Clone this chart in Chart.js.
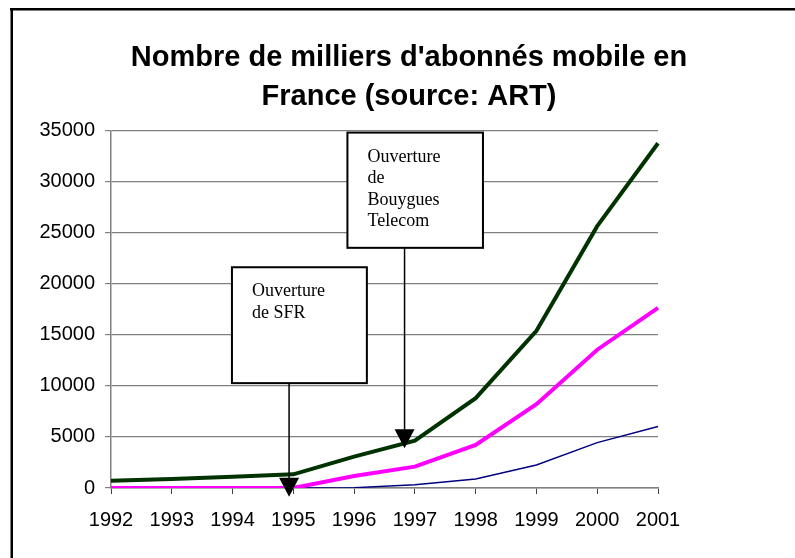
<!DOCTYPE html>
<html>
<head>
<meta charset="utf-8">
<script src="https://cdn.jsdelivr.net/npm/chart.js@4.4.1/dist/chart.umd.min.js"></script>
<style>
  html, body { margin: 0; padding: 0; background: #fff; }
  #wrap { width: 795px; height: 558px; }
</style>
</head>
<body>
<div id="wrap"><canvas id="chart" width="795" height="558"></canvas></div>
<script>
// Nombre de milliers d'abonnés mobile en France (source: ART)
const years = ['1992', '1993', '1994', '1995', '1996', '1997', '1998', '1999', '2000', '2001'];
const totalSubs = [720, 880, 1100, 1340, 3070, 4640, 8790, 15390, 25620, 33730];
const secondSubs = [0, 0, 0, 0, 1180, 2090, 4220, 8200, 13530, 17620];
const thirdSubs = [0, 0, 0, 0, 30, 330, 880, 2250, 4440, 6010];
const yTicksMax = 35000;
const yTicksStep = 5000;

// annotations, in axis units (x = year index, y = thousands)
const notes = [
  { lines: ['Ouverture', 'de SFR'], x0: 1.99, x1: 4.21, yTop: 21600, yBottom: 10260, arrowX: 2.93, tipY: -850 },
  { lines: ['Ouverture', 'de', 'Bouygues', 'Telecom'], x0: 3.89, x1: 6.12, yTop: 34775, yBottom: 23500, arrowX: 4.83, tipY: 3890 }
];

const SANS = '"Liberation Sans", Arial, sans-serif';
const SERIF = '"Liberation Serif", "Times New Roman", serif';
const GRID = '#808080';

const framePlugin = {
  id: 'frame',
  beforeDraw(chart) {
    const c = chart.ctx;
    c.save();
    c.fillStyle = '#fff';
    c.fillRect(0, 0, chart.width, chart.height);
    c.fillStyle = '#000';
    c.fillRect(10, 8, chart.width - 10, 2.5);
    c.fillRect(10.5, 8, 2.5, chart.height - 8);
    c.restore();
  }
};

const notePlugin = {
  id: 'notes',
  afterDatasetsDraw(chart) {
    const c = chart.ctx;
    const xs = chart.scales.x, ys = chart.scales.y;
    c.save();
    notes.forEach(n => {
      const l = xs.getPixelForValue(n.x0), r = xs.getPixelForValue(n.x1);
      const t = ys.getPixelForValue(n.yTop), b = ys.getPixelForValue(n.yBottom);
      const ax = xs.getPixelForValue(n.arrowX), tip = ys.getPixelForValue(n.tipY);
      // arrow shaft
      c.strokeStyle = '#000';
      c.lineWidth = 1.5;
      c.beginPath();
      c.moveTo(ax, b);
      c.lineTo(ax, tip - 15);
      c.stroke();
      // arrow head
      c.fillStyle = '#000';
      c.beginPath();
      c.moveTo(ax - 10, tip - 19);
      c.lineTo(ax + 10, tip - 19);
      c.lineTo(ax, tip);
      c.closePath();
      c.fill();
      // box
      c.fillStyle = '#fff';
      c.fillRect(l, t, r - l, b - t);
      c.lineWidth = 2;
      c.strokeRect(l, t, r - l, b - t);
      c.fillStyle = '#000';
      c.font = '18px ' + SERIF;
      c.textAlign = 'left';
      c.textBaseline = 'alphabetic';
      n.lines.forEach((s, i) => c.fillText(s, l + 20, t + 29 + i * 21.5));
    });
    c.restore();
  }
};

new Chart(document.getElementById('chart'), {
  type: 'line',
  data: {
    labels: years,
    datasets: [
      { label: 'Total', data: totalSubs, borderColor: '#003300', borderWidth: 4, order: 0 },
      { label: 'Second', data: secondSubs, borderColor: '#ff00ff', borderWidth: 4, order: 1 },
      { label: 'Third', data: thirdSubs, borderColor: '#000080', borderWidth: 1.5, order: 2 }
    ]
  },
  options: {
    responsive: false,
    animation: false,
    devicePixelRatio: 1,
    layout: { padding: { left: 23, right: 0, top: 0, bottom: 0 } },
    elements: { point: { radius: 0 }, line: { tension: 0, borderJoinStyle: 'miter' } },
    plugins: {
      legend: { display: false },
      tooltip: { enabled: false },
      title: {
        display: true,
        text: ["Nombre de milliers d'abonnés mobile en", 'France (source: ART)'],
        color: '#000',
        font: { family: SANS, size: 29, weight: 'bold', lineHeight: 1.35 },
        padding: { top: 38, bottom: 14 }
      }
    },
    scales: {
      x: {
        type: 'category',
        offset: false,
        grid: { display: true, drawOnChartArea: false, drawTicks: true, tickLength: 6, color: '#404040' },
        border: { display: true, color: GRID, width: 1.5 },
        ticks: { color: '#000', font: { family: SANS, size: 20 }, padding: 14, maxRotation: 0, autoSkip: false },
        afterFit(scale) { scale.height = 70; }
      },
      y: {
        min: 0,
        max: yTicksMax,
        grid: { color: GRID, lineWidth: 1.2, tickLength: 6 },
        border: { display: true, color: GRID, width: 1.5 },
        ticks: { stepSize: yTicksStep, color: '#000', font: { family: SANS, size: 20 }, padding: 10, callback: v => String(v) },
        afterFit(scale) { scale.width = 88; }
      },
      yPad: {
        position: 'right',
        display: true,
        grid: { display: false },
        border: { display: false },
        ticks: { display: false },
        afterFit(scale) { scale.width = 137; }
      }
    }
  },
  plugins: [framePlugin, notePlugin]
});
</script>
</body>
</html>
